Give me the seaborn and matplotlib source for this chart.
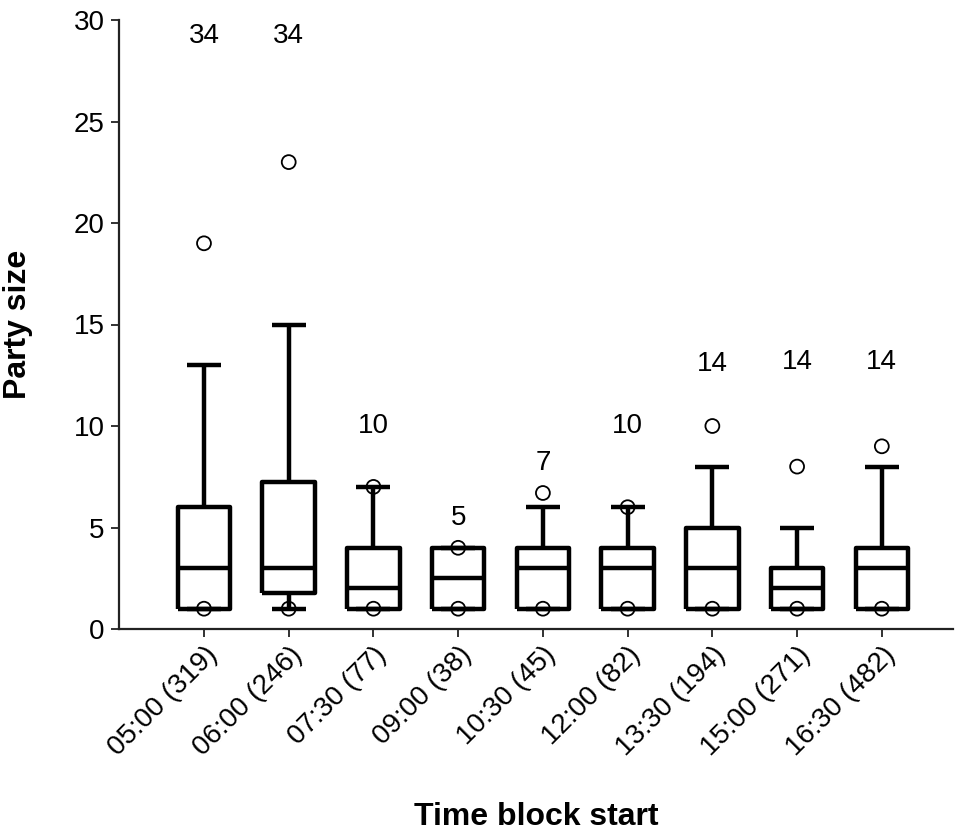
import matplotlib
matplotlib.use("Agg")
import matplotlib.pyplot as plt
import seaborn as sns
import pandas as pd

# Party size per time block (label shows block start and number of parties)
time_blocks = ["05:00 (319)", "06:00 (246)", "07:30 (77)", "09:00 (38)", "10:30 (45)",
               "12:00 (82)", "13:30 (194)", "15:00 (271)", "16:30 (482)"]
q1 = [1, 1.75, 1, 1, 1, 1, 1, 1, 1]
medians = [3, 3, 2, 2.5, 3, 3, 3, 2, 3]
q3 = [6, 7.25, 4, 4, 4, 4, 5, 3, 4]
whisker_low = [1, 1, 1, 1, 1, 1, 1, 1, 1]
whisker_high = [13, 15, 7, 4, 6, 6, 8, 5, 8]
point_low = [1, 1, 1, 1, 1, 1, 1, 1, 1]
point_high = [19, 23, 7, 4, 6.7, 6, 10, 8, 9]
max_size = [34, 34, 10, 5, 7, 10, 14, 14, 14]
max_label_y = [29.2, 29.2, 10, 5.45, 8.2, 10, 13.05, 13.15, 13.15]

sns.set_theme(style="ticks")
plt.rcParams["font.family"] = ["Liberation Sans", "DejaVu Sans"]

fig = plt.figure(figsize=(9.55, 8.36), dpi=100)
ax = fig.add_axes([119 / 955, (836 - 629) / 836, (953 - 119) / 955, (629 - 20) / 836])

positions = list(range(len(time_blocks)))
stats = [
    dict(med=m, q1=a, q3=b, whislo=wl, whishi=wh, fliers=[])
    for m, a, b, wl, wh in zip(medians, q1, q3, whisker_low, whisker_high)
]
line = dict(color="black", linewidth=3.2, solid_capstyle="butt")
ax.bxp(stats, positions=positions, widths=0.62, capwidths=0.4, showfliers=False,
       boxprops=line, whiskerprops=line, capprops=line, medianprops=line)

# Outlying percentile points
pts = pd.DataFrame({
    "block": time_blocks * 2,
    "size": point_low + point_high,
})
pts["pos"] = positions * 2
sns.scatterplot(data=pts, x="pos", y="size", ax=ax, marker="o", s=100,
                facecolor="none", edgecolor="black", linewidth=1.3, zorder=5)

# Maximum party size above each block
for x, y, v in zip(positions, max_label_y, max_size):
    ax.text(x, y, str(v), ha="center", va="center", fontsize=20, color="black")

ax.set_xlim(-1.003, 8.84)
ax.set_ylim(0, 30)
ax.set_yticks([0, 5, 10, 15, 20, 25, 30])
ax.set_xticks(positions)
ax.set_xticklabels(time_blocks, rotation=45, ha="right", va="top",
                   rotation_mode="anchor")
ax.tick_params(axis="both", direction="out", length=5.5, width=1.3,
               color="#222222", labelsize=20, labelcolor="black", pad=5)
ax.tick_params(axis="x", pad=4)
for side in ["left", "bottom"]:
    ax.spines[side].set_linewidth(1.6)
    ax.spines[side].set_color("#222222")
sns.despine(ax=ax)

ax.set_xlabel("Time block start", fontsize=23, fontweight="bold", color="black")
ax.set_ylabel("Party size", fontsize=23, fontweight="bold", color="black")
ax.xaxis.set_label_coords(0.5, -0.284)
ax.yaxis.set_label_coords(-0.103, 0.5)

fig.savefig("out.png", dpi=100)
